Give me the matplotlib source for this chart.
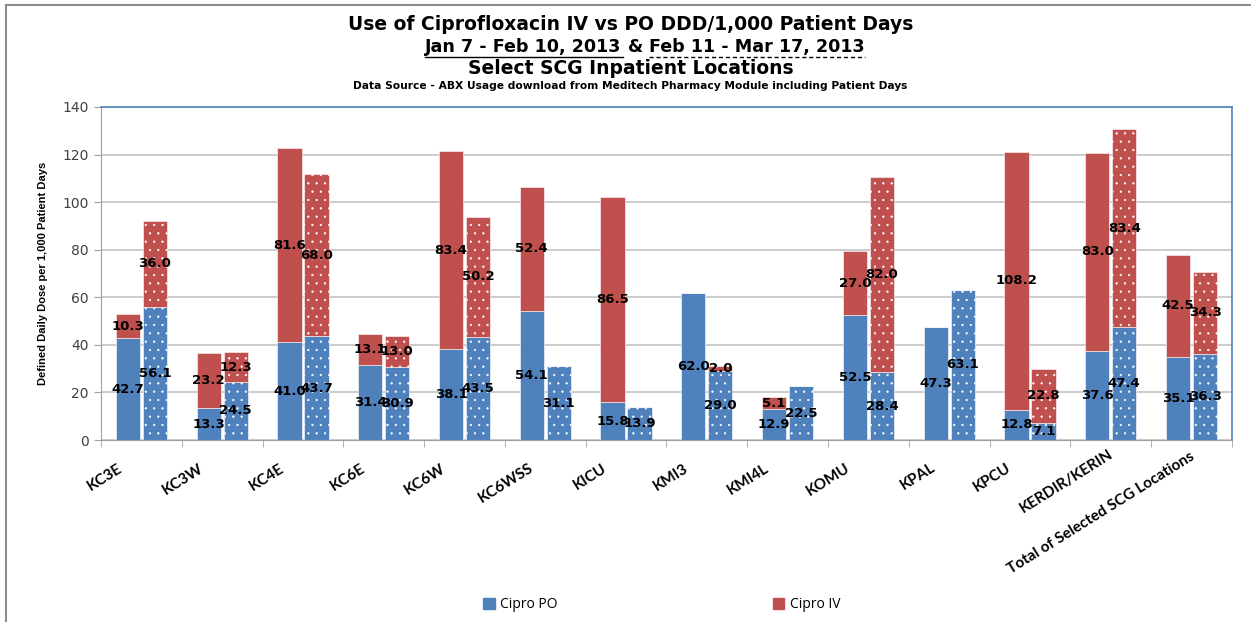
import matplotlib
matplotlib.use("Agg")
import matplotlib.pyplot as plt
import numpy as np
from matplotlib.patches import Rectangle
from matplotlib.lines import Line2D

# data
locations = ["KC3E", "KC3W", "KC4E", "KC6E", "KC6W", "KC6WSS", "KICU", "KMI3",
             "KMI4L", "KOMU", "KPAL", "KPCU", "KERDIR/KERIN",
             "Total of Selected SCG Locations"]
po_p1 = [42.7, 13.3, 41.0, 31.4, 38.1, 54.1, 15.8, 62.0, 12.9, 52.5, 47.3, 12.8, 37.6, 35.1]
iv_p1 = [10.3, 23.2, 81.6, 13.1, 83.4, 52.4, 86.5, 0.0, 5.1, 27.0, 0.0, 108.2, 83.0, 42.5]
po_p2 = [56.1, 24.5, 43.7, 30.9, 43.5, 31.1, 13.9, 29.0, 22.5, 28.4, 63.1, 7.1, 47.4, 36.3]
iv_p2 = [36.0, 12.3, 68.0, 13.0, 50.2, 0.0, 0.0, 2.0, 0.0, 82.0, 0.0, 22.8, 83.4, 34.3]

BLUE = "#4F81BD"
RED = "#C0504D"

plt.rcParams["hatch.linewidth"] = 0.4

fig = plt.figure(figsize=(12.51, 6.22), dpi=100)
ax = fig.add_axes([0.0807, 0.2926, 0.9041, 0.5354])

x = np.arange(len(locations))
w = 0.3
off = 0.167

po1 = np.array(po_p1)
iv1 = np.array(iv_p1)
po2 = np.array(po_p2)
iv2 = np.array(iv_p2)

ax.bar(x - off, po1, w, color=BLUE, edgecolor="white", linewidth=0.4, zorder=3)
ax.bar(x - off, iv1, w, bottom=po1, color=RED, edgecolor="white", linewidth=0.4, zorder=3)
ax.bar(x + off, po2, w, color=BLUE, edgecolor="white", linewidth=0.4, hatch="..", zorder=3)
ax.bar(x + off, iv2, w, bottom=po2, color=RED, edgecolor="white", linewidth=0.4, hatch="..", zorder=3)

lab_kw = dict(ha="center", va="center", fontsize=9.5, fontweight="bold",
              color="black", zorder=5)
for i in range(len(locations)):
    for xs, po, iv in ((x[i] - off, po1[i], iv1[i]), (x[i] + off, po2[i], iv2[i])):
        if po > 0:
            ax.text(xs, po / 2, f"{po:.1f}", **lab_kw)
        if iv > 0:
            ax.text(xs, po + iv / 2, f"{iv:.1f}", **lab_kw)

ax.set_xlim(-0.5, len(locations) - 0.5)
ax.set_ylim(0, 140)
ax.set_yticks(np.arange(0, 141, 20))
ax.yaxis.grid(True, color="#C8C8C8", linewidth=1.3, zorder=0)
ax.set_axisbelow(True)
ax.tick_params(axis="y", labelsize=10, labelcolor="#404040", length=5,
               color="#A0A0A0", pad=4)

# category labels, slanted like the (stretched) Excel export
ax.set_xticks(x)
ax.set_xticklabels([])
ax.tick_params(axis="x", length=0)
ax.set_xticks(np.arange(-0.5, len(locations)), minor=True)
ax.tick_params(axis="x", which="minor", length=5, color="#A0A0A0")
label_shift = {"KC6WSS": (-9.5, -19), "KPAL": (-11, -19),
               "KERDIR/KERIN": (1, -9.5), "Total of Selected SCG Locations": (1, -11)}
for i, name in enumerate(locations):
    dx, dy = label_shift.get(name, (-14.5, -19.5))
    ax.annotate(name, xy=(i, 0), xycoords=("data", "axes fraction"),
                xytext=(dx, dy), textcoords="offset points",
                rotation=32, rotation_mode="anchor", ha="right", va="center",
                fontsize=11, fontweight="bold", family="Lato")

for s in ("left", "bottom"):
    ax.spines[s].set_color("#A0A0A0")
for s in ("top", "right"):
    ax.spines[s].set_color("#4F81BD")
    ax.spines[s].set_linewidth(1.2)

ax.set_ylabel("Defined Daily Dose per 1,000 Patient Days", fontsize=8,
              fontweight="bold", family="Liberation Sans", labelpad=10)

# titles
tkw = dict(ha="center", va="center", fontweight="bold", family="DejaVu Sans")
fig.text(0.504, 1 - 25 / 622, "Use of Ciprofloxacin IV vs PO DDD/1,000 Patient Days",
         fontsize=13.5, **tkw)
fig.text(0.504, 1 - 69 / 622, "Select SCG Inpatient Locations", fontsize=13.5, **tkw)
fig.text(0.504, 1 - 86 / 622,
         "Data Source - ABX Usage download from Meditech Pharmacy Module including Patient Days",
         fontsize=7.7, **tkw)

# second title line with underlines
partA = "Jan 7 - Feb 10, 2013 "
partB = "& "
partC = "Feb 11 - Mar 17, 2013"
y2 = 1 - 47 / 622
renderer = fig.canvas.get_renderer()
widths = []
for p in (partA, partB, partC):
    t = fig.text(0, 0, p.replace(" ", "\u00a0"), fontsize=12.6, fontweight="bold",
                 family="DejaVu Sans")
    widths.append(t.get_window_extent(renderer).width / fig.bbox.width)
    t.remove()
total = sum(widths)
x0 = 0.5156 - total / 2
pos = x0
for p, wd in zip((partA, partB, partC), widths):
    fig.text(pos, y2, p.replace(" ", "\u00a0"), fontsize=12.6, fontweight="bold",
             family="DejaVu Sans", ha="left", va="center")
    pos += wd
uy = y2 - 10 / 622
fig.add_artist(Line2D([x0, x0 + widths[0] - 0.004], [uy, uy], color="black",
                      linewidth=1.0, transform=fig.transFigure))
cx0 = x0 + widths[0] + widths[1]
fig.add_artist(Line2D([cx0, cx0 + widths[2]], [uy, uy], color="black",
                      linewidth=1.0, linestyle=(0, (3, 2)),
                      transform=fig.transFigure))

# legend
handles = [Rectangle((0, 0), 1, 1, color=BLUE), Rectangle((0, 0), 1, 1, color=RED)]
fig.legend(handles, ["Cipro PO", "Cipro IV"], loc="center",
           bbox_to_anchor=(0.529, 1 - 605 / 622), ncol=2, frameon=False,
           handlelength=0.8, handleheight=0.8, handletextpad=0.4,
           columnspacing=15.5, prop={"family": "Open Sans", "size": 10})

# outer chart border (top and left visible)
fig.add_artist(Line2D([6 / 1251, 1], [1 - 5 / 622, 1 - 5 / 622], color="#8C8C8C",
                      linewidth=1.5, transform=fig.transFigure))
fig.add_artist(Line2D([6 / 1251, 6 / 1251], [0, 1 - 5 / 622], color="#8C8C8C",
                      linewidth=1.5, transform=fig.transFigure))

fig.savefig("out.png", dpi=100, facecolor="white")
